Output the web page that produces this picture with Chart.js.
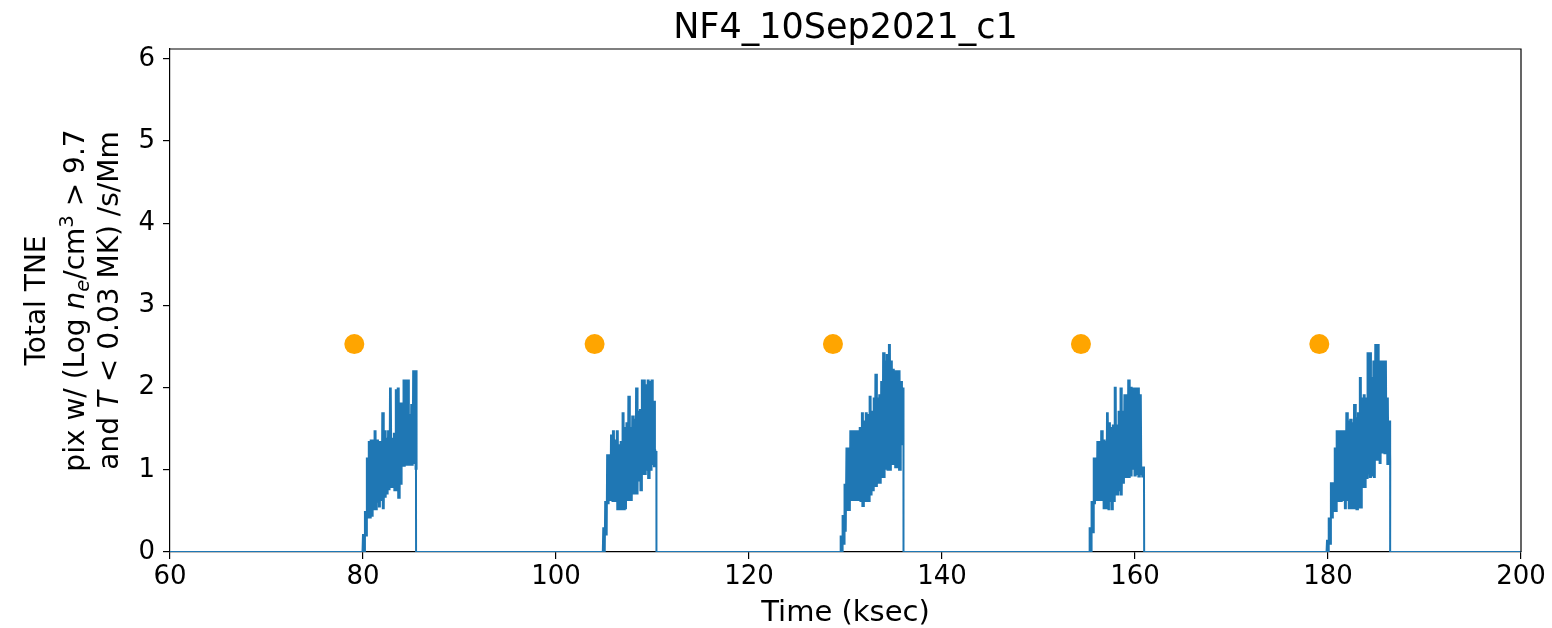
<!DOCTYPE html>
<html>
<head>
<meta charset="utf-8">
<script src="https://cdn.jsdelivr.net/npm/chart.js@4.4.1/dist/chart.umd.min.js"></script>
<style>
  html, body { margin: 0; padding: 0; background: #fff; }
  canvas { display: block; }
</style>
</head>
<body>
<canvas id="c" width="1552" height="628"></canvas>
<script>
// ---------------- data ----------------
const titleText = "NF4_10Sep2021_c1";
const xTitle = "Time (ksec)";
const xRange = [60, 200];
const yRange = [0, 6.12];
const xTickStep = 20;
const yTickStep = 1;

// each value pair covers one 0.2 ksec cell; the signal flickers between high and low inside it
const sampleStep = 0.2;
const burstStarts = [80.0, 104.9, 129.5, 155.3, 179.9];
const burstEnds   = [85.5, 110.4, 136.0, 160.95, 186.45];

const burstHigh1 = [0.22,0.50,1.15,1.35,1.37,1.37,1.48,1.37,1.35,1.35,1.70,1.48,1.39,1.48,2.00,1.39,1.45,1.98,2.00,1.82,1.82,2.10,2.10,2.10,1.68,1.80,2.21,2.21];
const burstLow1  = [0.00,0.20,0.42,0.42,0.44,0.52,0.52,0.60,0.54,0.62,0.52,0.66,0.70,0.75,0.79,0.79,0.75,0.75,0.66,0.83,1.05,1.05,1.05,1.05,1.05,1.05,1.07,1.00];

const burstHigh2 = [0.30,0.62,1.19,1.19,1.43,1.48,1.37,1.48,1.31,1.35,1.70,1.52,1.58,1.90,1.52,1.66,1.62,2.00,1.72,1.74,2.10,2.10,2.04,2.10,2.08,2.10,1.84,1.23];
const burstLow2  = [0.00,0.20,0.58,0.62,0.62,0.62,0.62,0.52,0.52,0.52,0.52,0.52,0.62,0.62,0.62,0.70,0.70,0.70,0.87,0.75,0.95,0.95,1.00,0.90,1.00,1.07,1.03,1.20];

const burstHigh3 = [0.20,0.45,0.83,1.27,1.27,1.48,1.48,1.48,1.48,1.48,1.52,1.70,1.60,1.70,1.68,1.90,1.72,1.88,2.17,1.88,1.92,2.08,2.43,2.33,2.41,2.53,2.33,2.23,2.21,2.21,2.21,2.08,2.00];
const burstLow3  = [0.00,0.10,0.26,0.50,0.50,0.62,0.62,0.62,0.62,0.62,0.62,0.56,0.62,0.62,0.62,0.70,0.75,0.79,0.79,0.83,0.83,0.90,0.90,1.00,1.00,1.00,1.07,1.07,1.03,1.03,1.00,1.30,1.40];

const burstHigh4 = [0.30,0.62,1.15,1.15,1.35,1.35,1.48,1.37,1.35,1.70,1.58,1.52,1.55,2.01,1.55,1.72,2.00,1.72,1.92,1.92,2.10,2.01,2.00,2.00,2.00,2.00,1.92,1.04];
const burstLow4  = [0.00,0.24,0.58,0.62,0.62,0.62,0.62,0.52,0.52,0.52,0.62,0.52,0.62,0.70,0.70,0.75,0.70,0.83,0.90,0.90,0.90,0.92,1.00,0.92,0.95,0.92,0.95,0.92];

const burstHigh5 = [0.15,0.42,0.85,0.85,1.27,1.48,1.48,1.48,1.48,1.48,1.70,1.60,1.62,1.58,1.80,1.64,1.70,2.13,1.88,1.92,1.88,2.43,2.43,2.13,2.33,2.53,2.53,2.33,2.33,2.33,2.33,1.88,1.60];
const burstLow5  = [0.00,0.10,0.42,0.50,0.50,0.62,0.62,0.62,0.62,0.52,0.62,0.52,0.52,0.52,0.52,0.52,0.54,0.54,0.79,0.79,0.90,1.15,0.90,0.92,0.90,1.11,1.11,1.07,1.20,1.20,1.20,1.07,1.10];

const burstHighs = [burstHigh1, burstHigh2, burstHigh3, burstHigh4, burstHigh5];
const burstLows  = [burstLow1, burstLow2, burstLow3, burstLow4, burstLow5];

// orange markers
const dotTimes  = [79.1, 104.0, 128.7, 154.4, 179.1];
const dotValues = [2.53, 2.53, 2.53, 2.53, 2.53];

// ---------------- build the line table from the arrays ----------------
const linePoints = [{x: xRange[0], y: 0}];
burstStarts.forEach((t0, b) => {
  linePoints.push({x: t0 - 0.05, y: 0});
  const hi = burstHighs[b], lo = burstLows[b];
  for (let i = 0; i < hi.length; i++) {
    const t = t0 + i * sampleStep;
    linePoints.push({x: t,                      y: hi[i]});
    linePoints.push({x: t + sampleStep * 0.25,  y: lo[i]});
    linePoints.push({x: t + sampleStep * 0.5,   y: hi[i]});
    linePoints.push({x: t + sampleStep * 0.75,  y: lo[i]});
  }
  linePoints.push({x: burstEnds[b] - 0.02, y: hi[hi.length - 1]});
  linePoints.push({x: burstEnds[b], y: 0});
});
linePoints.push({x: xRange[1], y: 0});

const dotPoints = dotTimes.map((t, i) => ({x: t, y: dotValues[i]}));

// ---------------- drawing ----------------
const FONT = '"DejaVu Sans", "Liberation Sans", sans-serif';

const textPlugin = {
  id: 'textPlugin',
  afterDraw(chart) {
    const ctx = chart.ctx;
    const a = chart.chartArea;
    ctx.save();
    ctx.strokeStyle = '#000';
    ctx.lineWidth = 1.2;
    ctx.beginPath();
    ctx.moveTo(a.left, a.top);
    ctx.lineTo(a.right, a.top);
    ctx.lineTo(a.right, a.bottom);
    ctx.stroke();

    ctx.fillStyle = '#000';
    ctx.textAlign = 'center';
    ctx.textBaseline = 'alphabetic';
    ctx.font = '35px ' + FONT;
    ctx.fillText(titleText, (a.left + a.right) / 2, 38);

    ctx.font = '29px ' + FONT;
    ctx.fillText(xTitle, (a.left + a.right) / 2, 621);

    const base = 28;
    const lines = [
      {cx: 35, runs: [{t: 'Total TNE'}]},
      {cx: 74, runs: [
        {t: 'pix w/ (Log '},
        {t: 'n', it: true},
        {t: 'e', it: true, sc: 0.7, sh: 5},
        {t: '/cm'},
        {t: '3', sc: 0.7, sh: -11},
        {t: ' > 9.7'}
      ]},
      {cx: 108, runs: [
        {t: 'and '},
        {t: 'T', it: true},
        {t: ' < 0.03 MK) /s/Mm'}
      ]}
    ];
    const cy = (a.top + a.bottom) / 2;
    lines.forEach(line => {
      ctx.save();
      ctx.translate(line.cx, cy);
      ctx.rotate(-Math.PI / 2);
      ctx.textAlign = 'left';
      ctx.textBaseline = 'alphabetic';
      let total = 0;
      const widths = line.runs.map(r => {
        ctx.font = (r.it ? 'italic ' : '') + (base * (r.sc || 1)) + 'px ' + FONT;
        const w = ctx.measureText(r.t).width;
        total += w;
        return w;
      });
      let x = -total / 2;
      line.runs.forEach((r, i) => {
        ctx.font = (r.it ? 'italic ' : '') + (base * (r.sc || 1)) + 'px ' + FONT;
        ctx.fillText(r.t, x, 10 + (r.sh || 0));
        x += widths[i];
      });
      ctx.restore();
    });
    ctx.restore();
  }
};

new Chart(document.getElementById('c'), {
  data: {
    datasets: [
      {
        type: 'line',
        data: linePoints,
        borderColor: '#1f77b4',
        borderWidth: 2,
        pointRadius: 0,
        tension: 0,
        fill: false,
        order: 2
      },
      {
        type: 'scatter',
        data: dotPoints,
        backgroundColor: '#ffa500',
        borderColor: '#ffa500',
        borderWidth: 0,
        pointRadius: 10,
        order: 1
      }
    ]
  },
  options: {
    responsive: false,
    animation: false,
    devicePixelRatio: 1,
    parsing: false,
    layout: { padding: { top: 49, right: 31, left: 0, bottom: 0 } },
    plugins: { legend: { display: false }, tooltip: { enabled: false }, title: { display: false } },
    scales: {
      x: {
        type: 'linear',
        min: xRange[0],
        max: xRange[1],
        ticks: {
          stepSize: xTickStep,
          color: '#000',
          font: { family: FONT, size: 26 },
          padding: 3,
          maxRotation: 0,
          includeBounds: false
        },
        grid: { drawOnChartArea: false, drawTicks: true, tickLength: 7, color: '#000', lineWidth: 1.2 },
        border: { display: true, color: '#000', width: 1.2 },
        afterFit(s) { s.height = 76; }
      },
      y: {
        type: 'linear',
        min: yRange[0],
        max: yRange[1],
        ticks: {
          stepSize: yTickStep,
          color: '#000',
          font: { family: FONT, size: 26 },
          padding: 8,
          includeBounds: false
        },
        afterBuildTicks(s) { s.ticks = s.ticks.filter(t => Math.abs(t.value - Math.round(t.value)) < 1e-9); },
        grid: { drawOnChartArea: false, drawTicks: true, tickLength: 7, color: '#000', lineWidth: 1.2 },
        border: { display: true, color: '#000', width: 1.2 },
        afterFit(s) { s.width = 170; }
      }
    }
  },
  plugins: [textPlugin]
});
</script>
</body>
</html>
